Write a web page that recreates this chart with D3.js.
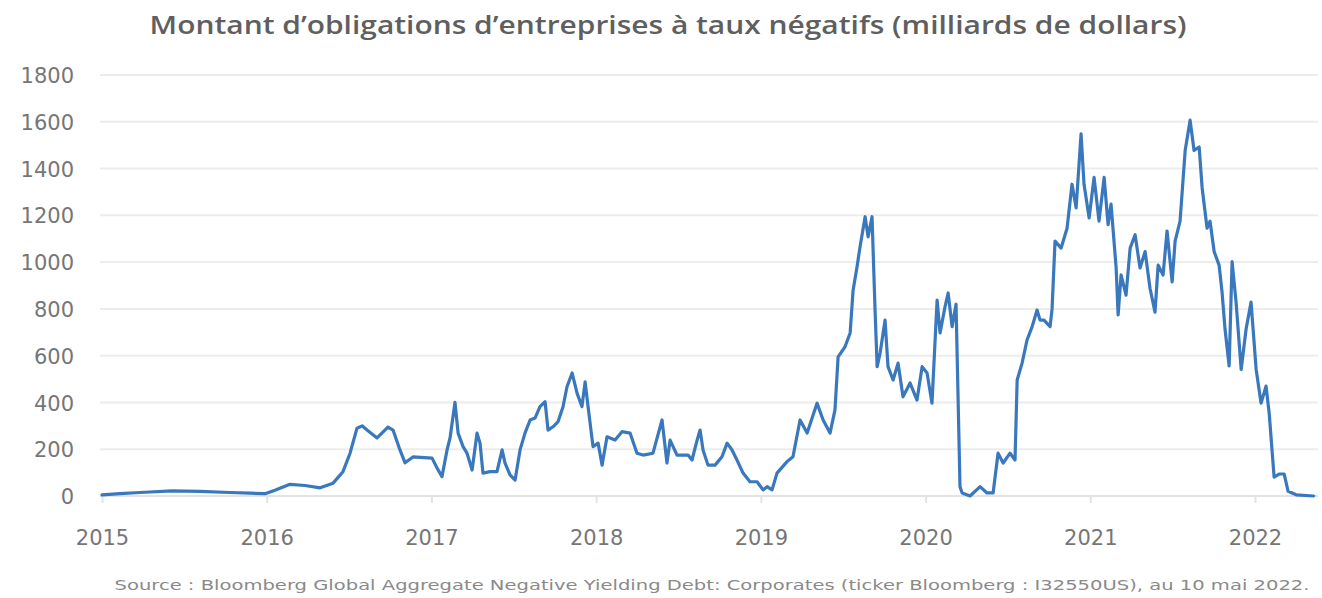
<!DOCTYPE html>
<html>
<head>
<meta charset="utf-8">
<script src="https://cdn.jsdelivr.net/npm/d3@7"></script>
<style>
  html, body { margin: 0; padding: 0; background: #ffffff; }
  svg { display: block; }
</style>
</head>
<body>
<svg id="chart" width="1322" height="598"></svg>
<script>
// ---- DATA ----
const titleText = "Montant d\u2019obligations d\u2019entreprises \u00e0 taux n\u00e9gatifs (milliards de dollars)";
const sourceText = "Source : Bloomberg Global Aggregate Negative Yielding Debt: Corporates (ticker Bloomberg : I32550US), au 10 mai 2022.";
const yTicks = [0, 200, 400, 600, 800, 1000, 1200, 1400, 1600, 1800];
const xTickYears = [2015, 2016, 2017, 2018, 2019, 2020, 2021, 2022];

// dates as decimal years
const years = [
  2015.000, 2015.109, 2015.231, 2015.425, 2015.595, 2015.777, 2015.899, 2015.990,
  2016.050, 2016.141, 2016.233, 2016.324, 2016.403, 2016.463, 2016.506, 2016.548,
  2016.579, 2016.609, 2016.670, 2016.736, 2016.767, 2016.809, 2016.840, 2016.888,
  2017.004, 2017.034, 2017.064, 2017.095, 2017.113, 2017.143, 2017.162, 2017.192,
  2017.216, 2017.247, 2017.277, 2017.295, 2017.313, 2017.356, 2017.398, 2017.429,
  2017.447, 2017.477, 2017.508, 2017.538, 2017.568, 2017.599, 2017.629, 2017.659,
  2017.690, 2017.708, 2017.738, 2017.769, 2017.799, 2017.823, 2017.854, 2017.884,
  2017.914, 2017.933, 2017.951, 2017.981, 2018.012, 2018.036, 2018.066, 2018.115,
  2018.157, 2018.206, 2018.248, 2018.285, 2018.345, 2018.400, 2018.430, 2018.449,
  2018.491, 2018.558, 2018.582, 2018.613, 2018.631, 2018.649, 2018.679, 2018.722,
  2018.764, 2018.795, 2018.825, 2018.855, 2018.892, 2018.934, 2018.977, 2019.013,
  2019.038, 2019.068, 2019.098, 2019.159, 2019.195, 2019.238, 2019.281, 2019.341,
  2019.378, 2019.420, 2019.450, 2019.469, 2019.511, 2019.542, 2019.560, 2019.584,
  2019.602, 2019.633, 2019.651, 2019.675, 2019.693, 2019.706, 2019.724, 2019.754,
  2019.772, 2019.803, 2019.833, 2019.863, 2019.906, 2019.948, 2019.979, 2020.009,
  2020.039, 2020.070, 2020.088, 2020.118, 2020.137, 2020.161, 2020.185, 2020.209,
  2020.222, 2020.270, 2020.331, 2020.373, 2020.410, 2020.440, 2020.471, 2020.513,
  2020.543, 2020.556, 2020.586, 2020.616, 2020.647, 2020.677, 2020.695, 2020.719,
  2020.756, 2020.768, 2020.786, 2020.823, 2020.859, 2020.889, 2020.914, 2020.944,
  2020.962, 2020.993, 2021.023, 2021.053, 2021.084, 2021.108, 2021.126, 2021.157,
  2021.169, 2021.187, 2021.217, 2021.242, 2021.272, 2021.302, 2021.333, 2021.363,
  2021.393, 2021.412, 2021.442, 2021.466, 2021.497, 2021.515, 2021.545, 2021.576,
  2021.606, 2021.630, 2021.661, 2021.679, 2021.709, 2021.727, 2021.752, 2021.782,
  2021.800, 2021.818, 2021.843, 2021.861, 2021.885, 2021.916, 2021.946, 2021.976,
  2022.007, 2022.037, 2022.067, 2022.086, 2022.116, 2022.146, 2022.177, 2022.201,
  2022.250, 2022.356
];
// amount of negative-yielding corporate bonds, USD bn
const values = [
  5, 10, 15, 22, 20, 15, 12, 10,
  25, 50, 45, 35, 55, 104, 183, 290,
  300, 282, 248, 295, 282, 197, 142, 167,
  162, 120, 83, 197, 248, 400, 269, 211,
  183, 111, 269, 226, 98, 104, 104, 197,
  141, 90, 68, 197, 269, 325, 333, 382,
  403, 282, 296, 318, 382, 467, 526, 440,
  382, 488, 382, 211, 226, 132, 253, 239,
  275, 269, 183, 175, 183, 325, 141, 239,
  175, 175, 154, 239, 282, 197, 132, 132,
  168, 226, 197, 154, 98, 61, 61, 26,
  40, 26, 98, 147, 168, 325, 269, 397,
  325, 269, 368, 595, 638, 697, 880, 980,
  1065, 1194, 1108, 1194, 800, 553, 611, 752,
  553, 496, 568, 424, 483, 410, 553, 526,
  397, 838, 697, 809, 868, 724, 820, 40,
  13, 0, 40, 13, 13, 183, 141, 183,
  154, 496, 568, 667, 724, 795, 752, 752,
  724, 800, 1090, 1060, 1145, 1333, 1232, 1548,
  1333, 1189, 1362, 1175, 1362, 1160, 1248, 975,
  774, 945, 859, 1060, 1117, 975, 1045, 886,
  786, 987, 945, 1133, 915, 1090, 1175, 1477,
  1607, 1477, 1492, 1318, 1145, 1175, 1045, 987,
  872, 714, 556, 1002, 829, 541, 714, 829,
  541, 397, 470, 355, 81, 94, 94, 20,
  5, 0
];

// ---- LAYOUT ----
const svg = d3.select("#chart");
const plotRight = 1318;
const x = d3.scaleLinear().domain([2015, 2022]).range([102, 1255]);
const y = d3.scaleLinear().domain([0, 1800]).range([496, 75]);

const gridColor = "#ececec";

// gridlines
svg.append("g").selectAll("line").data(yTicks).join("line")
  .attr("x1", 100).attr("x2", plotRight)
  .attr("y1", d => y(d)).attr("y2", d => y(d))
  .attr("stroke", d => d === 0 ? "#e3e3e3" : gridColor)
  .attr("stroke-width", 2);

// y axis labels
const yAxis = d3.axisLeft(y).tickValues(yTicks).tickSize(0).tickPadding(0).tickFormat(d3.format("d"));
const gy = svg.append("g").attr("transform", "translate(74,0)").call(yAxis);
gy.select(".domain").remove();
gy.selectAll("text")
  .attr("font-family", "DejaVu Sans, sans-serif")
  .attr("font-size", 21)
  .attr("fill", "#767676")
  .attr("dy", "0.36em");

// x axis
const xAxis = d3.axisBottom(x).tickValues(xTickYears).tickSize(7).tickPadding(31).tickFormat(d3.format("d"));
const gx = svg.append("g").attr("transform", `translate(0,${y(0)})`).call(xAxis);
gx.select(".domain").remove();
gx.selectAll(".tick line").attr("stroke", "#e3e3e3").attr("stroke-width", 2);
gx.selectAll("text")
  .attr("font-family", "DejaVu Sans, sans-serif")
  .attr("font-size", 21)
  .attr("fill", "#767676")
  .attr("dy", "0.5em");

// line
const pts = years.map((t, i) => [t, values[i]]);
const line = d3.line().x(d => x(d[0])).y(d => y(d[1]));
svg.append("path")
  .datum(pts)
  .attr("d", line)
  .attr("fill", "none")
  .attr("stroke", "#3a78bd")
  .attr("stroke-width", 3.2)
  .attr("stroke-linejoin", "round")
  .attr("stroke-linecap", "round");

// helper to fit text width horizontally
function fitText(sel, cx, cy, target) {
  sel.attr("text-anchor", "middle");
  const w = sel.node().getComputedTextLength();
  const k = target / w;
  sel.attr("transform", `translate(${cx},${cy}) scale(${k},1)`);
}

// title
const title = svg.append("text")
  .text(titleText)
  .attr("font-family", "Open Sans, sans-serif")
  .attr("font-weight", 600)
  .attr("font-size", 25)
  .attr("fill", "#5f5f5f");
fitText(title, 668, 34, 1037);

// source
const src = svg.append("text")
  .text(sourceText)
  .attr("font-family", "DejaVu Sans, sans-serif")
  .attr("font-size", 14)
  .attr("fill", "#8a8a8a");
fitText(src, 712, 590, 1195);
</script>
</body>
</html>
